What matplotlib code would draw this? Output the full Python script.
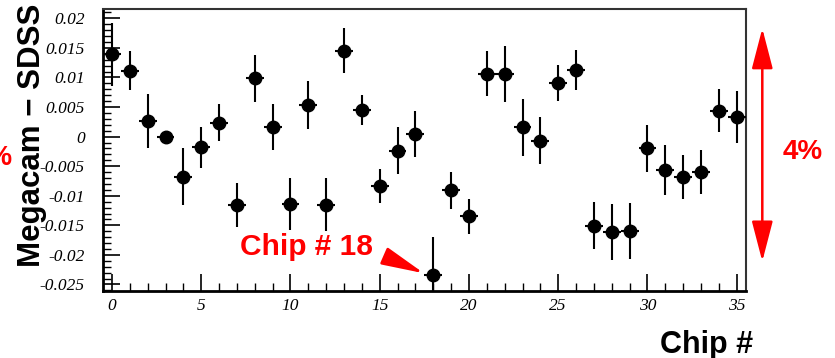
import matplotlib
matplotlib.use("Agg")
import matplotlib.pyplot as plt
import matplotlib.transforms as mtransforms
from matplotlib.ticker import MultipleLocator
import numpy as np

chips = list(range(36))
diff = [0.0139, 0.01115, 0.00265, 0.0000, -0.00676, -0.0018, 0.00237, -0.01154, 0.00986, 0.0017,
        -0.01137, 0.00535, -0.0115, 0.01453, 0.0045, -0.0083, -0.00236, 0.0004, -0.02348, -0.0091,
        -0.0135, 0.0106, 0.0106, 0.0016, -0.0007, 0.0091, 0.01127, -0.01503, -0.01615, -0.01593,
        -0.00196, -0.00563, -0.00686, -0.0060, 0.0044, 0.00338]
err = [0.0053, 0.0033, 0.0046, 0.0003, 0.0048, 0.0035, 0.0031, 0.0037, 0.0040, 0.0039,
       0.0044, 0.0040, 0.0045, 0.0038, 0.0026, 0.0029, 0.0040, 0.0039, 0.0065, 0.0032,
       0.0030, 0.0038, 0.0048, 0.0048, 0.0040, 0.0030, 0.0033, 0.0040, 0.0047, 0.0047,
       0.0040, 0.0042, 0.0037, 0.0037, 0.0037, 0.0044]
xerr = [0.5] * 36

ytick_vals = [-0.025, -0.02, -0.015, -0.01, -0.005, 0, 0.005, 0.01, 0.015, 0.02]
ytick_labels = ["-0.025", "-0.02", "-0.015", "-0.01", "-0.005", "0", "0.005", "0.01", "0.015", "0.02"]
xtick_vals = [0, 5, 10, 15, 20, 25, 30, 35]

fig = plt.figure(figsize=(8.35, 3.58), dpi=100)
ax = fig.add_axes([0.1234, 0.1872, 0.7696, 0.7863])

ax.errorbar(chips, diff, yerr=err, xerr=xerr, fmt='o', color='black', ms=9,
            elinewidth=1.5, capsize=0, zorder=3)

ax.set_xlim(-0.5, 35.5)
ax.set_ylim(-0.0261, 0.0215)

tickfont = dict(family='Liberation Serif', style='italic', size=12.5)
ax.set_xticks(xtick_vals)
ax.set_xticklabels([str(v) for v in xtick_vals], fontdict=tickfont)
ax.set_yticks(ytick_vals)
ax.set_yticklabels(ytick_labels, fontdict=tickfont)
ax.xaxis.set_minor_locator(MultipleLocator(1))
ax.yaxis.set_minor_locator(MultipleLocator(0.001))
ax.tick_params(which='major', direction='in', length=12, width=1.2)
ax.tick_params(which='minor', direction='in', length=6, width=1.0)
ax.tick_params(axis='x', which='major', pad=5)
ax.tick_params(axis='y', which='major', pad=13)
ax.tick_params(top=False, right=False, which='both')

for s in ['left', 'bottom']:
    ax.spines[s].set_linewidth(2.0)
for s in ['top', 'right']:
    ax.spines[s].set_linewidth(1.5)
    ax.spines[s].set_color('#333333')

ax.set_ylabel("Megacam \u2212 SDSS", fontfamily='Liberation Sans', fontweight='bold',
              fontsize=22.5)
ax.yaxis.set_label_coords(-0.087, 0.554)
fig.text(0.902, 358 and 0.014, "Chip #", fontfamily='Liberation Sans', fontweight='bold',
         fontsize=22, ha='right', va='baseline')

# Chip 18 annotation
ax.text(14.63, -0.01863, "Chip # 18", color='red', fontfamily='Liberation Sans',
        fontweight='bold', fontsize=21.5, ha='right', va='center')
ax.annotate("", xy=(17.48, -0.02311), xytext=(15.36, -0.02032),
            arrowprops=dict(arrowstyle='-|>,head_length=2.6,head_width=0.55', color='red',
                            lw=2, shrinkA=0, shrinkB=0, mutation_scale=10))

# 4% arrow
trans = mtransforms.blended_transform_factory(ax.transAxes, ax.transData)
ax.annotate("", xy=(1.0259, 0.0183), xytext=(1.0259, -0.0211), xycoords=trans, textcoords=trans,
            arrowprops=dict(arrowstyle='<|-|>,head_length=2.5,head_width=0.65', color='red',
                            lw=1.8, shrinkA=0, shrinkB=0, mutation_scale=10),
            annotation_clip=False)
ax.text(1.058, -0.00258, "4%", transform=trans, color='red', fontfamily='Liberation Sans',
        fontweight='bold', fontsize=20, ha='left', va='center', clip_on=False)
fig.text(13 / 835, 1 - 158 / 358, "4%", color='red', fontfamily='Liberation Sans',
         fontweight='bold', fontsize=20, ha='right', va='center')

fig.savefig("out.png", dpi=100)
